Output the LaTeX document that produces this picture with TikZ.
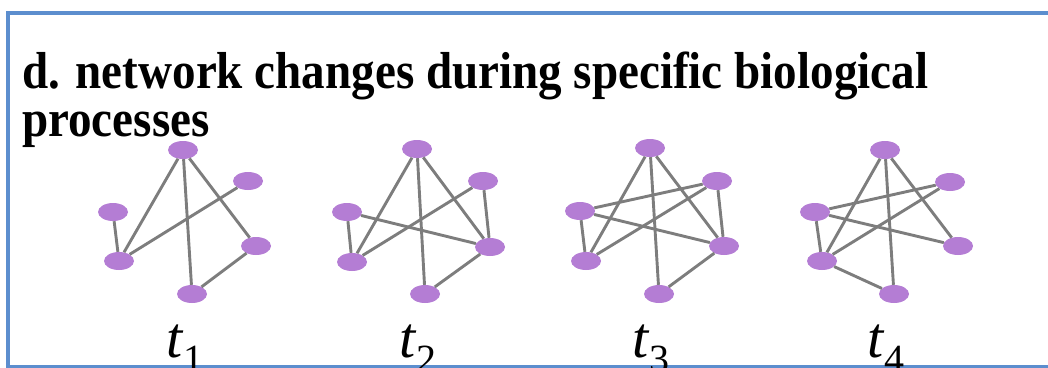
\documentclass[tikz,border=0pt]{standalone}
\usepackage{fontspec}
\setmainfont{Liberation Serif}
\usetikzlibrary{shapes.geometric}
\definecolor{frameblue}{RGB}{92,142,206}
\definecolor{nodepurple}{RGB}{180,125,212}
\definecolor{edgegray}{RGB}{125,125,125}
\tikzset{
  vtx/.style={ellipse, fill=nodepurple, draw=none, minimum width=30pt, minimum height=18pt, inner sep=0pt},
  edge/.style={draw=edgegray, line width=2.9pt},
  titletext/.style={anchor=base west, inner sep=0pt, font=\fontsize{52}{52}\selectfont\bfseries},
  tlabel/.style={anchor=base, inner sep=0pt, font=\fontsize{58}{58}\selectfont\itshape}
}
\newcommand{\tsub}[1]{t\raisebox{-0.26em}{\fontsize{40}{40}\selectfont\upshape #1}}
\newcommand{\narrow}[1]{\scalebox{0.905}[1]{#1}}
\begin{document}
\begin{tikzpicture}[x=1pt,y=-1pt]
\useasboundingbox (0,0) rectangle (1048,367);
\begin{scope}
\clip (0,0) rectangle (1048,367);
\draw[frameblue, line width=4.5pt] (8,13) rectangle (1070,367);
\end{scope}

\node[titletext] (title1) at (22,88) {\narrow{d. network changes during specific biological}};
\node[titletext] (title2) at (22,136) {\narrow{processes}};

% graph 1
\node[vtx] (a1) at (183,150) {};
\node[vtx] (a2) at (248,181) {};
\node[vtx] (a3) at (113,212) {};
\node[vtx] (a4) at (256,246) {};
\node[vtx] (a5) at (119,261) {};
\node[vtx] (a6) at (192,294) {};
\draw[edge] (a1) -- (a5);
\draw[edge] (a1) -- (a6);
\draw[edge] (a1) -- (a4);
\draw[edge] (a3) -- (a5);
\draw[edge] (a5) -- (a2);
\draw[edge] (a4) -- (a6);

% graph 2
\node[vtx] (b1) at (417,149) {};
\node[vtx] (b2) at (483,181) {};
\node[vtx] (b3) at (347,212) {};
\node[vtx] (b4) at (490,247) {};
\node[vtx] (b5) at (352,262) {};
\node[vtx] (b6) at (425,294) {};
\draw[edge] (b1) -- (b5);
\draw[edge] (b1) -- (b6);
\draw[edge] (b1) -- (b4);
\draw[edge] (b3) -- (b5);
\draw[edge] (b3) -- (b4);
\draw[edge] (b5) -- (b2);
\draw[edge] (b2) -- (b4);
\draw[edge] (b4) -- (b6);

% graph 3
\node[vtx] (c1) at (650,148) {};
\node[vtx] (c2) at (717,181) {};
\node[vtx] (c3) at (580,211) {};
\node[vtx] (c4) at (724,246) {};
\node[vtx] (c5) at (586,261) {};
\node[vtx] (c6) at (659,294) {};
\draw[edge] (c1) -- (c5);
\draw[edge] (c1) -- (c6);
\draw[edge] (c1) -- (c4);
\draw[edge] (c3) -- (c2);
\draw[edge] (c3) -- (c5);
\draw[edge] (c3) -- (c4);
\draw[edge] (c5) -- (c2);
\draw[edge] (c2) -- (c4);
\draw[edge] (c4) -- (c6);

% graph 4
\node[vtx] (d1) at (885,150) {};
\node[vtx] (d2) at (950,182) {};
\node[vtx] (d3) at (815,212) {};
\node[vtx] (d4) at (958,246) {};
\node[vtx] (d5) at (822,261) {};
\node[vtx] (d6) at (894,294) {};
\draw[edge] (d1) -- (d5);
\draw[edge] (d1) -- (d6);
\draw[edge] (d1) -- (d4);
\draw[edge] (d3) -- (d2);
\draw[edge] (d3) -- (d5);
\draw[edge] (d3) -- (d4);
\draw[edge] (d5) -- (d2);
\draw[edge] (d5) -- (d6);

% labels
\node[tlabel] (l1) at (185,357) {\tsub{1}};
\node[tlabel] (l2) at (418,357) {\tsub{2}};
\node[tlabel] (l3) at (651,357) {\tsub{3}};
\node[tlabel] (l4) at (886,357) {\tsub{4}};
\end{tikzpicture}
\end{document}
